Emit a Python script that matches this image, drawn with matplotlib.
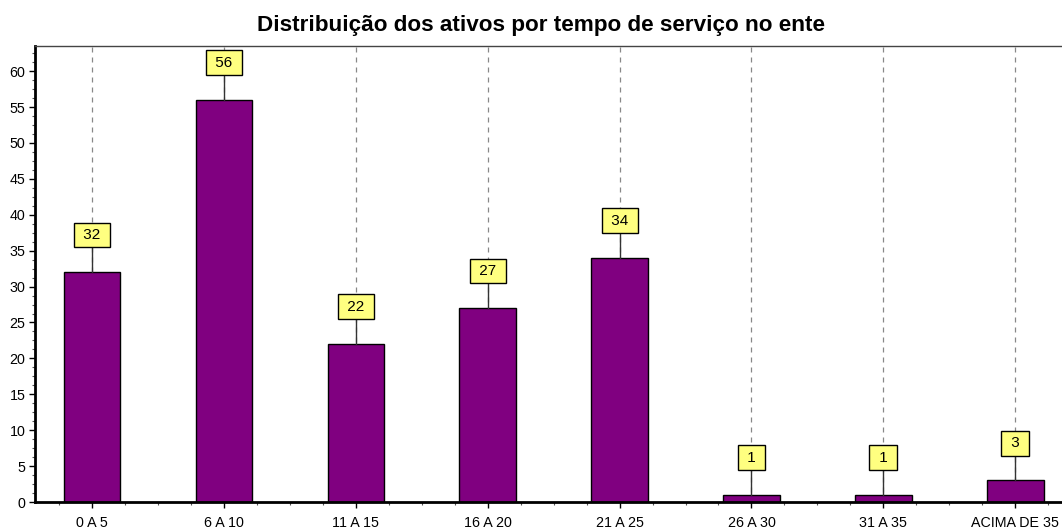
import matplotlib.pyplot as plt
from matplotlib.ticker import MultipleLocator, AutoMinorLocator

# data
categories = ["0 A 5", "6 A 10", "11 A 15", "16 A 20", "21 A 25", "26 A 30", "31 A 35", "ACIMA DE 35"]
counts = [32, 56, 22, 27, 34, 1, 1, 3]

plt.rcParams['font.family'] = ['Liberation Sans', 'DejaVu Sans']

fig = plt.figure(figsize=(10.62, 5.29), dpi=100)
ax = fig.add_axes([0.033, 0.051, 0.967, 0.862])

xs = list(range(len(categories)))

# dashed vertical grid at each category
for x in xs:
    ax.axvline(x, color="#888888", lw=0.9, ls=(0, (4, 4)), zorder=0)

ax.bar(xs, counts, width=0.43, color="#800080", edgecolor="black", lw=1.0, zorder=2)

# value labels in yellow boxes, joined to the bar by a line
offset = 5.4
for x, v in zip(xs, counts):
    ax.plot([x, x], [v, v + offset], color="#333333", lw=1.0, zorder=3)
    ax.text(x, v + offset, " %d " % v, ha="center", va="center_baseline", fontsize=11, zorder=4,
            bbox=dict(boxstyle="square,pad=0.35", fc="#FFFF80", ec="black", lw=1.0))

ax.set_xlim(-0.433, 7.355)
ax.set_ylim(0, 63.5)
ax.set_xticks(xs)
ax.set_xticklabels(categories)
ax.yaxis.set_major_locator(MultipleLocator(5))
ax.yaxis.set_minor_locator(AutoMinorLocator(4))
ax.xaxis.set_minor_locator(MultipleLocator(0.25))
ax.tick_params(axis="both", which="major", labelsize=10.3, length=4, width=1)
ax.tick_params(axis="x", which="major", pad=6)
ax.tick_params(axis="y", which="major", pad=3)
ax.tick_params(axis="both", which="minor", length=2.5, width=0.8, color="#555555")

ax.spines["left"].set_linewidth(2)
ax.spines["bottom"].set_linewidth(2)
ax.spines["top"].set_linewidth(1)
ax.spines["top"].set_color("#444444")
ax.spines["right"].set_visible(False)

fig.text(0.509, 0.951, "Distribuição dos ativos por tempo de serviço no ente",
         ha="center", va="center", fontsize=16.2, fontweight="bold")

fig.savefig("out.png", dpi=100)
